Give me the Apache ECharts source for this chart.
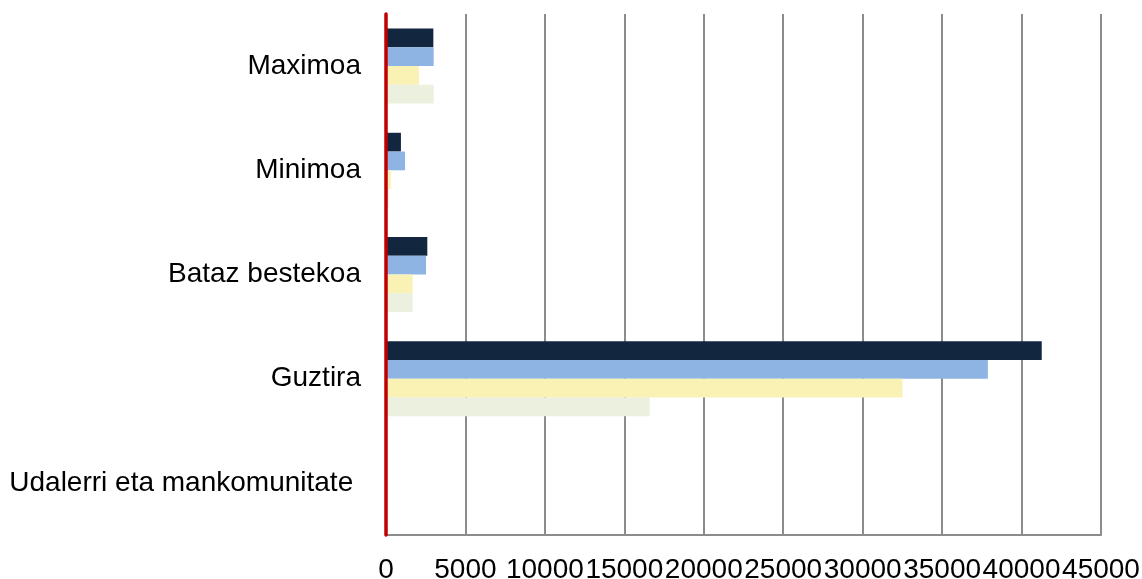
<!DOCTYPE html>
<html>
<head>
<meta charset="utf-8">
<script src="https://cdn.jsdelivr.net/npm/echarts@6/dist/echarts.min.js"></script>
<style>
html,body{margin:0;padding:0;background:#fff;}
#chart{width:1142px;height:579px;}
</style>
</head>
<body>
<div id="chart"></div>
<script>
// categories from bottom to top
var categories = ['Udalerri eta mankomunitate ', 'Guztira', 'Bataz bestekoa', 'Minimoa', 'Maximoa'];
var xTicks = [0, 5000, 10000, 15000, 20000, 25000, 30000, 35000, 40000, 45000];
var seriesA = [null, 41270, 2600, 940, 2980];   // dark navy
var seriesB = [null, 37880, 2520, 1200, 3000];  // light blue
var seriesC = [null, 32510, 1680, 300, 2080];   // pale yellow
var seriesD = [null, 16600, 1680, 170, 3000];   // pale green-grey

var chart = echarts.init(document.getElementById('chart'), null, {renderer: 'canvas'});
var font = 'Liberation Sans, Arial, sans-serif';
function mk(name, data, color) {
  return {
    name: name, type: 'bar', data: data,
    barGap: '0%', barCategoryGap: '28%',
    itemStyle: {color: color},
    silent: true
  };
}
chart.setOption({
  animation: false,
  grid: {left: 386, right: 41, top: 14, bottom: 44, containLabel: false, outerBoundsMode: 'none'},
  xAxis: {
    type: 'value', min: xTicks[0], max: xTicks[xTicks.length - 1], interval: 5000,
    axisLine: {show: true, lineStyle: {color: '#8c8c8c', width: 2}},
    axisTick: {show: false},
    splitLine: {show: true, lineStyle: {color: '#8c8c8c', width: 2}},
    axisLabel: {color: '#000', fontFamily: font, fontSize: 28, margin: 21,
      showMaxLabel: true, showMinLabel: true, hideOverlap: false,
      formatter: function (v) { return String(v); }}
  },
  yAxis: {
    type: 'category', data: categories, z: 10,
    axisLine: {show: true, onZero: false, lineStyle: {color: '#c00000', width: 3.5}},
    axisTick: {show: false},
    axisLabel: {color: '#000', fontFamily: font, fontSize: 28, margin: 25, padding: [5, 0, 0, 0]}
  },
  series: [
    mk('A', seriesA, '#12263f'),
    mk('B', seriesB, '#8eb4e3'),
    mk('C', seriesC, '#faf2b4'),
    mk('D', seriesD, '#ebf0df')
  ]
});
</script>
</body>
</html>
